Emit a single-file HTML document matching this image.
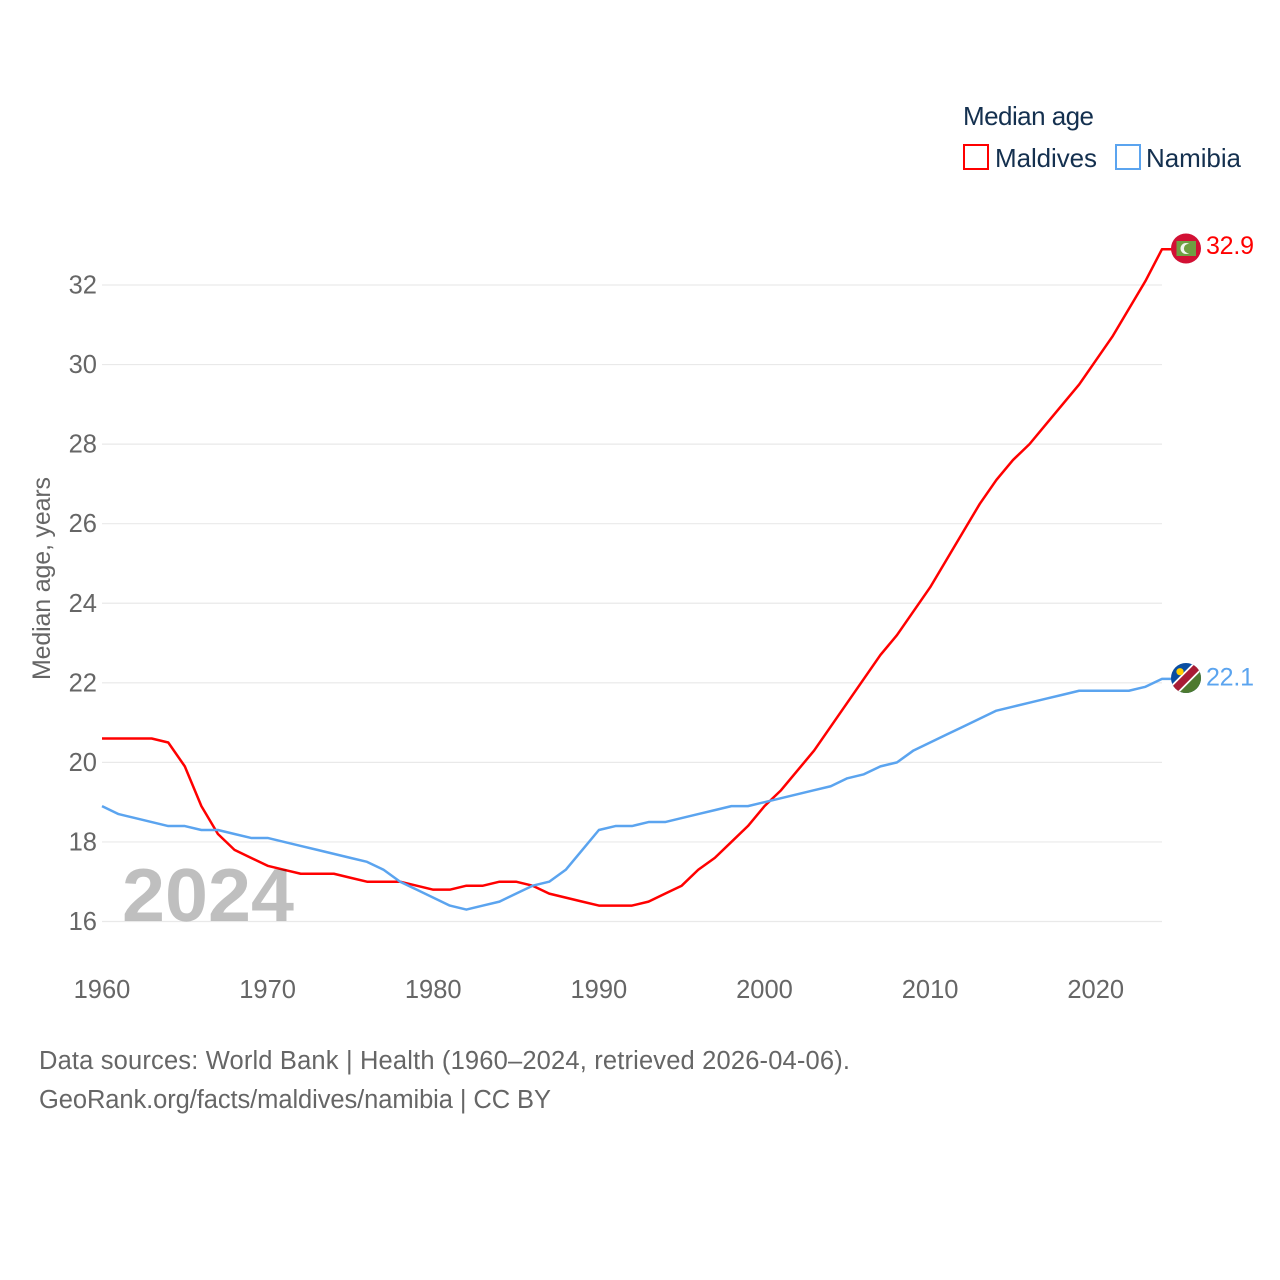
<!DOCTYPE html>
<html lang="en">
<head>
<meta charset="utf-8">
<title>Median age: Maldives and Namibia</title>
<style>
html,body{margin:0;padding:0;background:#fff;}
svg{display:block;font-family:"Liberation Sans",sans-serif;}
</style>
</head>
<body>
<svg id="chart" xmlns="http://www.w3.org/2000/svg" width="1280" height="1280" viewBox="0 0 1280 1280">
  <rect x="0" y="0" width="1280" height="1280" fill="#ffffff"/>
  <g id="grid"></g>
  <g id="y-ticks"></g>
  <g id="x-ticks"></g>
  <text transform="translate(50,680) rotate(-90)" font-size="25" fill="#666666" textLength="203">Median age, years</text>
  <path id="line-maldives" fill="none" stroke="#ff0000" stroke-width="2.5" stroke-linejoin="round"/>
  <path id="line-namibia" fill="none" stroke="#5ba4ef" stroke-width="2.5" stroke-linejoin="round"/>
  <text x="122" y="921" font-size="75" font-weight="bold" fill="#000000" fill-opacity="0.25" textLength="172" lengthAdjust="spacingAndGlyphs">2024</text>

  <g id="flag-maldives">
    <circle cx="1186" cy="248.5" r="15" fill="#d21034"/>
    <rect x="1176.5" y="241" width="19.5" height="15" fill="#6f9f42"/>
    <circle cx="1186" cy="248.5" r="5.5" fill="#f2f5ee"/>
    <circle cx="1188.5" cy="248.5" r="4.6" fill="#6f9f42"/>
  </g>
  <g id="flag-namibia">
    <clipPath id="namibia-clip"><circle cx="1186" cy="678" r="15"/></clipPath>
    <g clip-path="url(#namibia-clip)">
      <rect x="1170" y="662" width="32" height="32" fill="#0a4ea2"/>
      <polygon points="1202,662 1202,694 1170,694" fill="#4d7a2f"/>
      <line x1="1168" y1="696" x2="1204" y2="660" stroke="#ffffff" stroke-width="11"/>
      <line x1="1168" y1="696" x2="1204" y2="660" stroke="#a81c35" stroke-width="7.5"/>
      <circle cx="1180" cy="671.7" r="3.6" fill="#ffce00"/>
    </g>
  </g>
  <text id="value-maldives" x="1206" y="254" font-size="25" fill="#ff0000" textLength="48"></text>
  <text id="value-namibia" x="1206" y="685" font-size="25" fill="#5ba4ef" textLength="48"></text>

  <g>
    <text x="963" y="125" font-size="26" fill="#14304f" textLength="131">Median age</text>
    <rect x="964" y="145" width="24" height="24" fill="none" stroke="#ff0000" stroke-width="2"/>
    <text x="995" y="167" font-size="26" fill="#14304f" textLength="102">Maldives</text>
    <rect x="1116" y="145" width="24" height="24" fill="none" stroke="#5ba4ef" stroke-width="2"/>
    <text x="1146" y="167" font-size="26" fill="#14304f" textLength="95">Namibia</text>
  </g>

  <text x="39" y="1069" font-size="25.5" fill="#666666" textLength="811">Data sources: World Bank | Health (1960–2024, retrieved 2026-04-06).</text>
  <text x="39" y="1108" font-size="25.5" fill="#666666" textLength="512">GeoRank.org/facts/maldives/namibia | CC BY</text>
</svg>
<script>
const years = [1960,1961,1962,1963,1964,1965,1966,1967,1968,1969,1970,1971,1972,1973,1974,1975,1976,1977,1978,1979,1980,1981,1982,1983,1984,1985,1986,1987,1988,1989,1990,1991,1992,1993,1994,1995,1996,1997,1998,1999,2000,2001,2002,2003,2004,2005,2006,2007,2008,2009,2010,2011,2012,2013,2014,2015,2016,2017,2018,2019,2020,2021,2022,2023,2024];
const maldives = [20.6,20.6,20.6,20.6,20.5,19.9,18.9,18.2,17.8,17.6,17.4,17.3,17.2,17.2,17.2,17.1,17.0,17.0,17.0,16.9,16.8,16.8,16.9,16.9,17.0,17.0,16.9,16.7,16.6,16.5,16.4,16.4,16.4,16.5,16.7,16.9,17.3,17.6,18.0,18.4,18.9,19.3,19.8,20.3,20.9,21.5,22.1,22.7,23.2,23.8,24.4,25.1,25.8,26.5,27.1,27.6,28.0,28.5,29.0,29.5,30.1,30.7,31.4,32.1,32.9];
const namibia = [18.9,18.7,18.6,18.5,18.4,18.4,18.3,18.3,18.2,18.1,18.1,18.0,17.9,17.8,17.7,17.6,17.5,17.3,17.0,16.8,16.6,16.4,16.3,16.4,16.5,16.7,16.9,17.0,17.3,17.8,18.3,18.4,18.4,18.5,18.5,18.6,18.7,18.8,18.9,18.9,19.0,19.1,19.2,19.3,19.4,19.6,19.7,19.9,20.0,20.3,20.5,20.7,20.9,21.1,21.3,21.4,21.5,21.6,21.7,21.8,21.8,21.8,21.8,21.9,22.1];
const yTickValues = [16,18,20,22,24,26,28,30,32];
const xTickValues = [1960,1970,1980,1990,2000,2010,2020];

const SVG_NS = 'http://www.w3.org/2000/svg';
function xScale(year) { return 102 + (year - 1960) * (1162 - 102) / (2024 - 1960); }
function yScale(value) { return 921.5 - (value - 16) * (921.5 - 285) / (32 - 16); }

const gridGroup = document.getElementById('grid');
const yGroup = document.getElementById('y-ticks');
const xGroup = document.getElementById('x-ticks');

yTickValues.forEach(function (v) {
  const line = document.createElementNS(SVG_NS, 'line');
  
  
  line.setAttribute('x1', xScale(1960));
  line.setAttribute('x2', xScale(2024));
  line.setAttribute('y1', yScale(v));
  line.setAttribute('y2', yScale(v));
  line.setAttribute('stroke', '#e9e9e9');
  line.setAttribute('stroke-width', '1.2');
  gridGroup.appendChild(line);

  const label = document.createElementNS(SVG_NS, 'text');
  
  
  label.setAttribute('x', 97);
  label.setAttribute('y', yScale(v) + 8.5);
  label.setAttribute('text-anchor', 'end');
  label.setAttribute('font-size', '25.5');
  label.setAttribute('fill', '#666666');
  label.textContent = String(v);
  yGroup.appendChild(label);
});

xTickValues.forEach(function (t) {
  const label = document.createElementNS(SVG_NS, 'text');
  
  
  label.setAttribute('x', xScale(t));
  label.setAttribute('y', 998);
  label.setAttribute('text-anchor', 'middle');
  label.setAttribute('font-size', '25.5');
  label.setAttribute('fill', '#666666');
  label.textContent = String(t);
  xGroup.appendChild(label);
});

function linePath(values) {
  let d = values.map(function (v, i) {
    return (i ? 'L' : 'M') + xScale(years[i]).toFixed(2) + ' ' + yScale(v).toFixed(2);
  }).join(' ');
  const last = values[values.length - 1];
  d += ' L1172 ' + yScale(last).toFixed(2);
  return d;
}
document.getElementById('line-maldives').setAttribute('d', linePath(maldives));
document.getElementById('line-namibia').setAttribute('d', linePath(namibia));

function placeEnd(flagId, labelId, values, flagRestY, labelRestY) {
  const last = values[values.length - 1];
  const dy = yScale(last) - flagRestY;
  document.getElementById(flagId).setAttribute('transform', 'translate(0,' + dy.toFixed(2) + ')');
  const lab = document.getElementById(labelId);
  lab.setAttribute('y', (yScale(last) + labelRestY).toFixed(2));
  lab.textContent = last.toFixed(1);
}
placeEnd('flag-maldives', 'value-maldives', maldives, yScale(32.9), 5);
placeEnd('flag-namibia', 'value-namibia', namibia, yScale(22.1), 6.5);
</script>
</body>
</html>
